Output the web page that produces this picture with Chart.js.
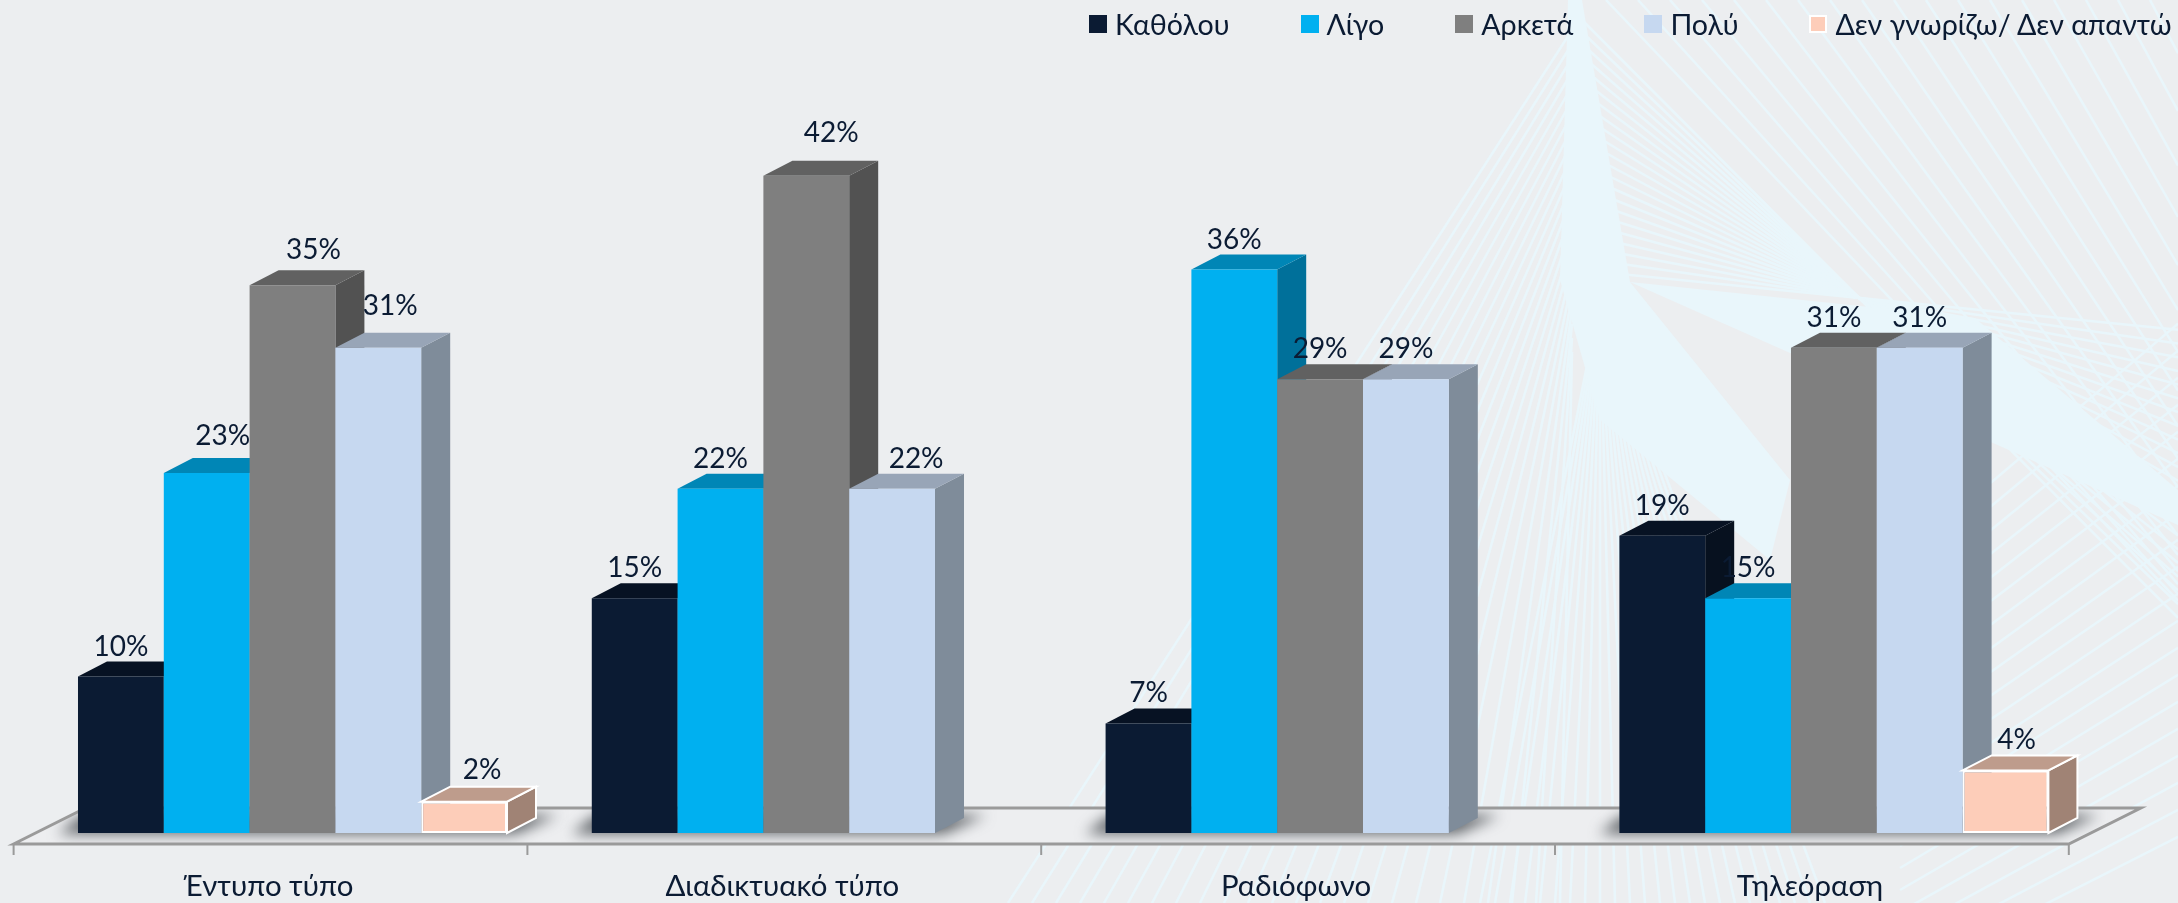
<!DOCTYPE html>
<html lang="el">
<head>
    <meta charset="UTF-8">
    <title>Ενημέρωση ανά μέσο</title>
    <script src="https://cdn.jsdelivr.net/npm/chart.js"></script>
    <style>
        html, body { margin: 0; padding: 0; background: #eceef0; }
        #wrap { position: relative; width: 2178px; height: 903px; overflow: hidden; }
        #legend {
            position: absolute; left: 1089px; top: 7px;
            display: flex; gap: 71px; white-space: nowrap;
            font: 28.6px Lato, sans-serif; color: #0b1b33;
        }
        #legend div { display: flex; align-items: center; height: 34px; }
        #legend i { display: block; width: 18px; height: 18px; margin-right: 8px; box-sizing: border-box; }
    </style>
</head>
<body>
<div id="wrap">
    <canvas id="chart" width="2178" height="903"></canvas>
    <div id="legend"></div>
</div>

<script>
    const categories = ['Έντυπο τύπο', 'Διαδικτυακό τύπο', 'Ραδιόφωνο', 'Τηλεόραση'];
    const seriesNames = ['Καθόλου', 'Λίγο', 'Αρκετά', 'Πολύ', 'Δεν γνωρίζω/ Δεν απαντώ'];
    const katholou = [10, 15, 7, 19];
    const ligo = [23, 22, 36, 15];
    const arketa = [35, 42, 29, 31];
    const poly = [31, 22, 29, 31];
    const dkDa = [2, null, null, 4];
    const seriesValues = [katholou, ligo, arketa, poly, dkDa];

    const frontColors = ['#0b1b33', '#00b0f0', '#7f7f7f', '#c6d8f0', '#fdcdb9'];
    const topColors = ['#071223', '#0086b6', '#616161', '#98a5b7', '#be9c8c'];
    const sideColors = ['#07111f', '#00709a', '#525252', '#7f8c9a', '#a08375'];

    const DEPTH_X = 29, DEPTH_Y = 15;      // 3d look of the bars
    const AXIS_SHIFT = 22;                 // the axis sits left of the bars
    const FLOOR_FRONT = 11, FLOOR_BACK = 25;

    // hand placed labels in the original: "category-series": [dx, extra up]
    const labelNudge = {
        '0-1': [16, 7], '0-2': [21, 5], '0-3': [12, 12], '0-4': [18, 2],
        '1-2': [25, 13], '1-3': [24, 0], '3-4': [11, 0]
    };

    function poly4(ctx, pts) {
        ctx.beginPath();
        pts.forEach((p, i) => i ? ctx.lineTo(p[0], p[1]) : ctx.moveTo(p[0], p[1]));
        ctx.closePath();
    }

    // faint string art behind the chart
    const raysPlugin = {
        id: 'rays',
        beforeDraw(chart) {
            const ctx = chart.ctx, R = 2178, B = 903;
            ctx.save();
            ctx.fillStyle = '#eceef0';
            ctx.fillRect(0, 0, R, B);
            ctx.strokeStyle = '#e9f6fb';
            ctx.fillStyle = '#e9f6fb';
            ctx.lineWidth = 2.5;
            const line = (a, b, c, d) => { ctx.beginPath(); ctx.moveTo(a, b); ctx.lineTo(c, d); ctx.stroke(); };
            // from the vertical band to the right
            for (let i = 0; i < 22; i++) {
                const y = 270 - i * 12;
                line(1580, y, R, y + (0.1 + i * 0.043) * (R - 1580));
            }
            // from the top edge to the right
            for (let i = 1; i <= 18; i++) {
                const x = 1574 + i * 32, s = 1 + i * 0.05;
                line(x, 0, R, (R - x) * s);
            }
            // fan to lower left, starts spread along the band
            for (let i = 0; i < 24; i++) {
                line(1572, 30 + i * 14, 1008 + i * 24, B);
            }
            // fan down from the knee
            for (let i = 0; i < 24; i++) {
                line(1600, 300, 1480 + i * 15, B);
            }
            // lower right hatch
            for (let i = 0; i < 20; i++) {
                const y = 560 + i * 22, s = 0.85 - i * 0.018;
                line(1900, y, R, y - s * (R - 1900));
            }
            // bright bands
            poly4(ctx, [[1568, 0], [1582, 0], [1630, 282], [1790, 480], [1770, 560], [1600, 420], [1560, 280]]);
            ctx.fill();
            poly4(ctx, [[1630, 282], [1975, 318], [R, 490], [R, 525]]);
            ctx.fill();
            ctx.restore();
        }
    };

    // floor, shadows, axis ticks, the 3d faces and the labels
    const floorPlugin = {
        id: 'floor',
        beforeDatasetsDraw(chart) {
            const ctx = chart.ctx, x = chart.scales.x, base = chart.scales.y.bottom;
            const left = chart.chartArea.left - AXIS_SHIFT, right = chart.chartArea.right - AXIS_SHIFT;
            const front = base + FLOOR_FRONT, back = base - FLOOR_BACK;
            const skew = (front - back) * 2;
            const outline = [[left, front], [left + skew, back], [right + skew, back], [right, front]];
            ctx.save();
            poly4(ctx, outline);
            ctx.fillStyle = '#edeef0';
            ctx.fill();

            ctx.save();
            poly4(ctx, outline);
            ctx.clip();
            ctx.filter = 'blur(7px)';
            ctx.fillStyle = 'rgba(70,75,80,0.85)';
            categories.forEach((c, i) => {
                const bars = seriesValues.map((s, k) => s[i] == null ? null : chart.getDatasetMeta(k).data[i]).filter(Boolean);
                const first = bars[0], last = bars[bars.length - 1];
                const l = first.x - first.width / 2, r = last.x + last.width / 2;
                poly4(ctx, [[l - 20, base + 1], [r + 8, base + 1], [r + DEPTH_X + 22, base - DEPTH_Y - 3], [l + 4, base - DEPTH_Y - 3]]);
                ctx.fill();
            });
            ctx.restore();

            ctx.strokeStyle = '#9a9a9a';
            ctx.lineWidth = 3;
            poly4(ctx, outline);
            ctx.stroke();
            ctx.lineWidth = 2;
            for (let i = 0; i <= categories.length; i++) {
                const tx = x.getPixelForValue(i - 0.5) - AXIS_SHIFT;
                ctx.beginPath();
                ctx.moveTo(tx, front);
                ctx.lineTo(tx, front + 11);
                ctx.stroke();
            }

            // chart.js paints the first dataset last, here it has to go first
            ctx.strokeStyle = '#ffffff';
            ctx.lineWidth = 2;
            seriesValues.forEach((vals, k) => {
                const meta = chart.getDatasetMeta(k);
                meta.data.forEach((bar, i) => {
                    if (vals[i] == null) return;
                    const l = bar.x - bar.width / 2, r = bar.x + bar.width / 2, y = bar.y, b = bar.base;
                    poly4(ctx, [[r, y], [r + DEPTH_X, y - DEPTH_Y], [r + DEPTH_X, b - DEPTH_Y], [r, b]]);
                    ctx.fillStyle = sideColors[k];
                    ctx.fill();
                    if (k === 4) ctx.stroke();
                    poly4(ctx, [[l, y], [l + DEPTH_X, y - DEPTH_Y], [r + DEPTH_X, y - DEPTH_Y], [r, y]]);
                    ctx.fillStyle = topColors[k];
                    ctx.fill();
                    if (k === 4) ctx.stroke();
                });
                meta.controller.draw();
            });
            ctx.restore();
        },
        beforeDatasetDraw() {
            return false;
        },
        afterDatasetsDraw(chart) {
            const ctx = chart.ctx;
            ctx.save();
            ctx.font = '28px Lato, sans-serif';
            ctx.fillStyle = '#0b1b33';
            ctx.textAlign = 'center';
            ctx.textBaseline = 'middle';
            seriesValues.forEach((vals, k) => {
                const bars = chart.getDatasetMeta(k).data;
                vals.forEach((v, i) => {
                    if (v == null) return;
                    const n = labelNudge[i + '-' + k] || [0, 0];
                    ctx.fillText(v + '%', bars[i].x + n[0], bars[i].y - 30 - n[1]);
                });
            });
            ctx.restore();
        }
    };

    const htmlLegend = {
        id: 'htmlLegend',
        afterUpdate(chart) {
            const box = document.getElementById('legend');
            box.innerHTML = '';
            chart.data.datasets.forEach((ds, k) => {
                const item = document.createElement('div');
                const sw = document.createElement('i');
                sw.style.background = ds.backgroundColor;
                if (k === 4) sw.style.border = '2px solid #fff';
                item.appendChild(sw);
                item.appendChild(document.createTextNode(ds.label));
                box.appendChild(item);
            });
        }
    };

    new Chart(document.getElementById('chart'), {
        type: 'bar',
        data: {
            labels: categories,
            datasets: seriesNames.map((name, k) => ({
                label: name,
                data: seriesValues[k],
                backgroundColor: frontColors[k],
                borderColor: '#ffffff',
                borderWidth: k === 4 ? 2 : 0,
                borderSkipped: false
            }))
        },
        options: {
            responsive: false,
            animation: false,
            events: [],
            layout: { padding: { left: 35.6, right: 87.2, top: 50.5, bottom: 0 } },
            datasets: { bar: { categoryPercentage: 0.835, barPercentage: 1 } },
            plugins: { legend: { display: false }, tooltip: { enabled: false } },
            scales: {
                x: {
                    grid: { display: false, drawTicks: false },
                    border: { display: false },
                    afterFit(scale) { scale.height = 70; },
                    ticks: {
                        color: '#0b1b33',
                        font: { family: 'Lato, sans-serif', size: 29.4 },
                        padding: 36,
                        maxRotation: 0,
                        labelOffset: -AXIS_SHIFT - 2
                    }
                },
                y: { display: false, min: 0, max: 50 }
            }
        },
        plugins: [raysPlugin, floorPlugin, htmlLegend]
    });
</script>
</body>
</html>
